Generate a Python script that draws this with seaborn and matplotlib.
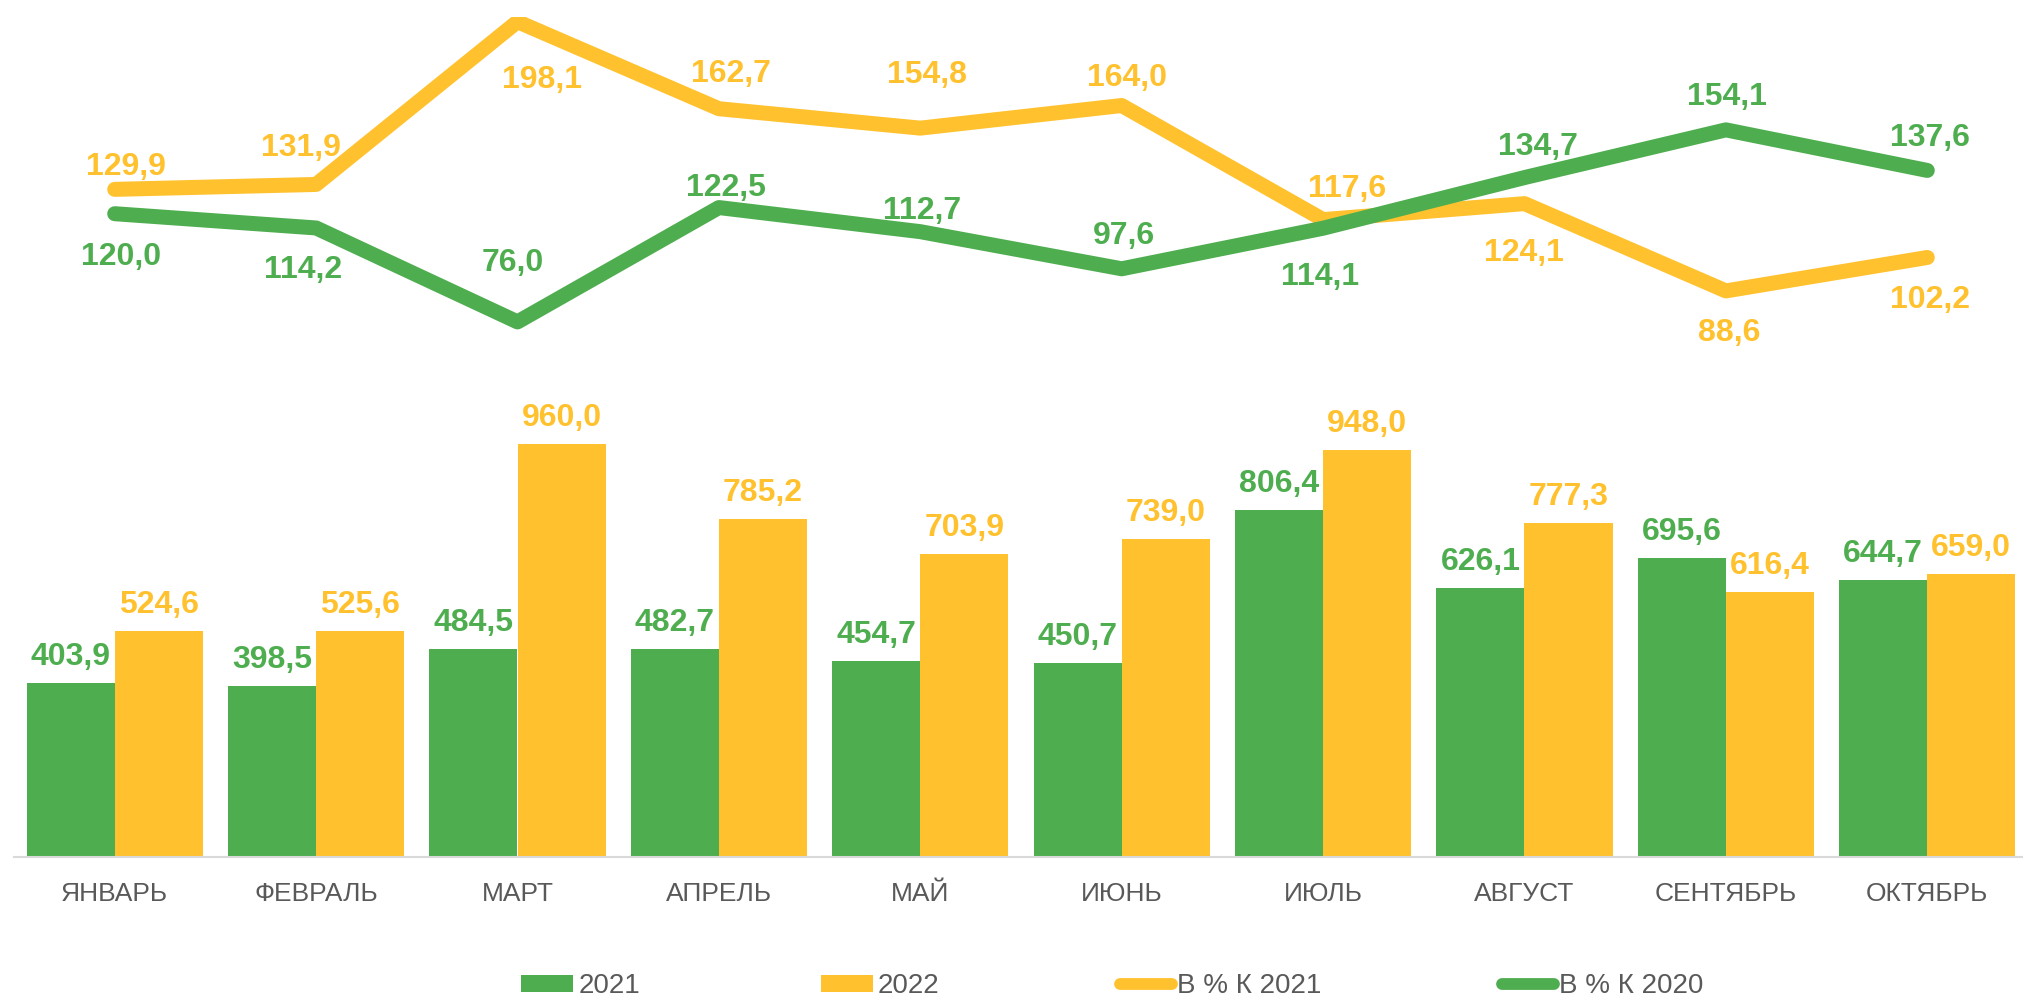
import numpy as np
import pandas as pd
import matplotlib
matplotlib.use("Agg")
import matplotlib.pyplot as plt
from matplotlib.patches import Patch
from matplotlib.lines import Line2D
import seaborn as sns

#Data
months = ["ЯНВАРЬ", "ФЕВРАЛЬ", "МАРТ", "АПРЕЛЬ", "МАЙ", "ИЮНЬ", "ИЮЛЬ", "АВГУСТ", "СЕНТЯБРЬ", "ОКТЯБРЬ"]
v2021 = [403.9, 398.5, 484.5, 482.7, 454.7, 450.7, 806.4, 626.1, 695.6, 644.7]
v2022 = [524.6, 525.6, 960.0, 785.2, 703.9, 739.0, 948.0, 777.3, 616.4, 659.0]
pct_to_2021 = [129.9, 131.9, 198.1, 162.7, 154.8, 164.0, 117.6, 124.1, 88.6, 102.2]
pct_to_2020 = [120.0, 114.2, 76.0, 122.5, 112.7, 97.6, 114.1, 134.7, 154.1, 137.6]

#Label nudges for the line labels (pixels, image-down positive)
dx_2021 = [11, -15, 25, 12, 7, 5, 24, -1, 3, 3]
dy_2021 = [-26, -40, 55, -38, -57, -31, -34, 46, 39, 39]
dx_2020 = [6, -13, -5, 7, 2, 2, -3, 13, 1, 3]
dy_2020 = [40, 39, -62, -23, -24, -36, 45, -34, -36, -36]

green = "#4EAE4F"
yellow = "#FFC12E"
grey_txt = "#595959"
grey_ax = "#D9D9D9"

sns.set_style("white")
plt.rcParams["font.family"] = ["Liberation Sans", "DejaVu Sans"]

fig = plt.figure(figsize=(20.24, 9.99), dpi=100)
W, H = 2024.0, 999.0
ax = fig.add_axes([14 / W, (H - 856.7) / H, 2014 / W, 839.7 / H])

df = pd.DataFrame({
    "month": months * 2,
    "year": ["2021"] * len(months) + ["2022"] * len(months),
    "value": v2021 + v2022,
})
sns.barplot(data=df, x="month", y="value", hue="year", order=months,
            hue_order=["2021", "2022"], palette={"2021": green, "2022": yellow},
            width=0.875, gap=0, saturation=1, legend=False, ax=ax, linewidth=0)

ax.set_xlim(-0.5, len(months) - 0.5)
ax.set_ylim(0, 1955)

#Bar labels
for cont, col in zip(ax.containers, [green, yellow]):
    for rect in cont:
        x = rect.get_x() + rect.get_width() / 2
        h = rect.get_height()
        ax.annotate(f"{h:.1f}".replace(".", ","), (x, h), xytext=(0, 18),
                    textcoords="offset pixels", ha="center", va="baseline",
                    fontsize=23, fontweight="bold", color=col)

#Lines on secondary axis
ax2 = ax.twinx()
xs = np.arange(len(months))
sns.lineplot(x=xs, y=pct_to_2021, ax=ax2, color=yellow, linewidth=10.8, sort=False,
             solid_capstyle="round", solid_joinstyle="round")
sns.lineplot(x=xs, y=pct_to_2020, ax=ax2, color=green, linewidth=10.8, sort=False,
             solid_capstyle="round", solid_joinstyle="round")
ax2.set_ylim(-141.5, 200)
ax2.set_xlim(-0.5, len(months) - 0.5)

for vals, dxs, dys, col in [(pct_to_2021, dx_2021, dy_2021, yellow),
                            (pct_to_2020, dx_2020, dy_2020, green)]:
    for i, v in enumerate(vals):
        ax2.annotate(f"{v:.1f}".replace(".", ","), (i, v),
                     xytext=(dxs[i], -dys[i] - 11.5), textcoords="offset pixels",
                     ha="center", va="baseline", fontsize=23, fontweight="bold", color=col)

#Axes styling
for a in [ax, ax2]:
    for s in ["top", "right", "left"]:
        a.spines[s].set_visible(False)
    a.set_yticks([])
    a.set_ylabel("")
    a.set_xlabel("")
ax2.spines["bottom"].set_visible(False)
ax.spines["bottom"].set_color(grey_ax)
ax.spines["bottom"].set_linewidth(1.5)

ax.set_xticks(xs)
ax.set_xticklabels(months)
ax.set_xticks(np.arange(len(months) + 1) - 0.5, minor=True)
ax.tick_params(axis="x", which="major", length=0, pad=31.7, labelsize=19, labelcolor=grey_txt)
ax.tick_params(axis="x", which="minor", length=5, width=1.5, color=grey_ax, direction="out")
for lab in ax.get_xticklabels():
    lab.set_verticalalignment("baseline")

#Legend
handles = [
    Patch(facecolor=green, edgecolor="none"),
    Patch(facecolor=yellow, edgecolor="none"),
    Line2D([], [], color=yellow, linewidth=8.5, solid_capstyle="round"),
    Line2D([], [], color=green, linewidth=8.5, solid_capstyle="round"),
]
labels = ["2021", "2022", "В % К 2021", "В % К 2020"]
fig.legend(handles, labels, loc="center", bbox_to_anchor=(0.5495, 0.013), ncol=4,
           frameon=False, fontsize=20, labelcolor=grey_txt, handlelength=1.87,
           handleheight=0.55, handletextpad=0.18, columnspacing=6.5,
           borderpad=0, borderaxespad=0)

fig.savefig("out.png", dpi=100)
